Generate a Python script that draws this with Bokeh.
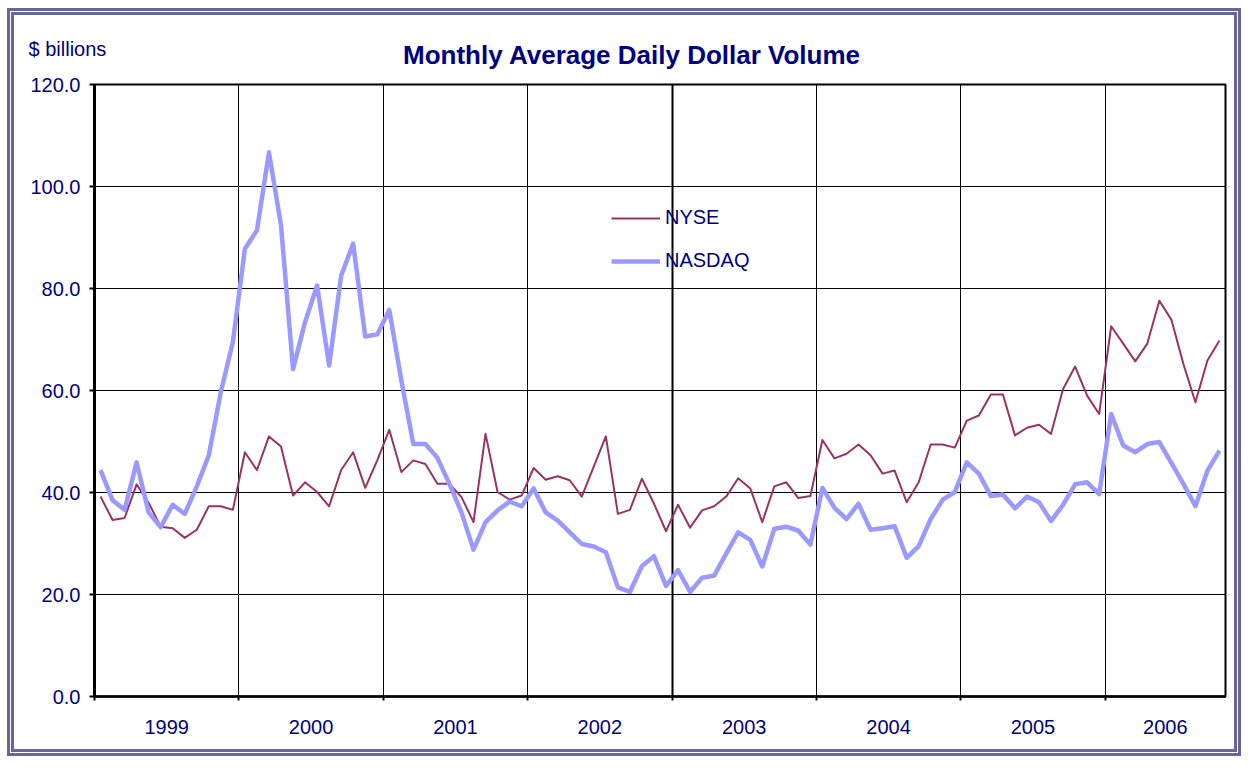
from bokeh.plotting import figure
from bokeh.models import (Range1d, FixedTicker, NumeralTickFormatter, Legend,
                          LegendItem, Label, Grid)
from bokeh.embed import file_html
from bokeh.resources import INLINE

years = ["1999", "2000", "2001", "2002", "2003", "2004", "2005", "2006"]
months_per_year = [12, 12, 12, 12, 12, 12, 12, 10]

nyse = [
    39.2, 34.6, 35.0, 41.6, 38.0, 33.3, 33.0, 31.1, 32.7, 37.3, 37.3, 36.6,
    47.9, 44.4, 51.0, 49.0, 39.4, 42.0, 40.1, 37.3, 44.4, 47.9, 40.9, 46.3,
    52.3, 44.0, 46.3, 45.6, 41.7, 41.7, 39.1, 34.2, 51.5, 40.1, 38.6, 39.4,
    44.8, 42.5, 43.2, 42.4, 39.2, 45.1, 51.0, 35.8, 36.6, 42.7, 37.8, 32.4,
    37.6, 33.1, 36.5, 37.3, 39.2, 42.8, 40.8, 34.2, 41.2, 42.0, 38.9, 39.3,
    50.3, 46.7, 47.6, 49.4, 47.3, 43.7, 44.3, 38.1, 42.0, 49.4, 49.4, 48.8,
    54.1, 55.1, 59.2, 59.2, 51.2, 52.7, 53.3, 51.5, 60.3, 64.7, 59.0, 55.4,
    72.6, 69.2, 65.7, 69.2, 77.6, 73.9, 65.2, 57.7, 65.9, 69.8,
]

nasdaq = [
    44.4, 38.5, 36.6, 45.9, 36.1, 33.2, 37.6, 35.8, 41.2, 47.3, 59.7, 69.5,
    87.8, 91.4, 106.7, 92.4, 64.2, 73.4, 80.6, 64.9, 82.5, 88.8, 70.6, 71.0,
    75.8, 62.0, 49.5, 49.5, 46.8, 41.7, 36.1, 28.8, 34.2, 36.5, 38.2, 37.3,
    40.8, 36.1, 34.5, 32.2, 29.9, 29.4, 28.3, 21.4, 20.5, 25.6, 27.5, 21.7,
    24.8, 20.5, 23.3, 23.7, 28.0, 32.2, 30.7, 25.5, 32.9, 33.3, 32.5, 29.8,
    40.9, 37.0, 34.8, 37.8, 32.7, 33.0, 33.4, 27.2, 29.5, 34.8, 38.6, 40.1,
    45.9, 43.7, 39.3, 39.6, 36.9, 39.2, 38.1, 34.4, 37.6, 41.6, 42.0, 39.7,
    55.4, 49.2, 47.9, 49.5, 49.9, 45.8, 41.7, 37.3, 44.3, 48.2,
]

y_ticks = [0, 20, 40, 60, 80, 100, 120]

NAVY = "#000080"
FONT = "Liberation Sans"
FRAME = "#666699"

n = len(nyse)
xs = [i + 0.5 for i in range(n)]
starts = []
acc = 0
for m in months_per_year:
    starts.append(acc)
    acc += m
centers = [s + m / 2 for s, m in zip(starts, months_per_year)]

W, H = 1241, 756


def band(x, y, w, h):
    return (f"linear-gradient({FRAME},{FRAME}) {x}px {y}px / {w}px {h}px "
            f"no-repeat")


bands = [
    band(7, 8, W - 7, 3), band(7, H - 3, W - 7, 3),
    band(7, 8, 3, H - 8), band(W - 3, 8, 3, H - 8),
    band(11, 12, W - 15, 3), band(11, H - 7, W - 15, 3),
    band(11, 12, 3, H - 19), band(W - 7, 12, 3, H - 19),
]

p = figure(width=W, height=H, output_backend="svg", toolbar_location=None,
           x_range=Range1d(0, n), y_range=Range1d(0, 120),
           min_border_left=94, min_border_right=16,
           min_border_top=84, min_border_bottom=60)
p.styles = {"background": ", ".join(bands) + ", #ffffff"}
p.background_fill_color = "white"
p.border_fill_color = None
p.outline_line_color = "black"
p.outline_line_width = 2

# lines
r_nyse = p.line(xs, nyse, line_color="#993366", line_width=2, line_join="round")
r_nasdaq = p.line(xs, nasdaq, line_color="#9999FF", line_width=4.5,
                  line_join="round")

# x axis
xa = p.xaxis[0]
xa.ticker = FixedTicker(ticks=centers, minor_ticks=starts)
xa.major_label_overrides = {c: y for c, y in zip(centers, years)}
xa.major_tick_line_color = None
xa.major_tick_out = 0
xa.major_tick_in = 0
xa.minor_tick_line_color = "black"
xa.minor_tick_line_width = 2
xa.minor_tick_out = 4
xa.minor_tick_in = 0
xa.axis_line_color = "black"
xa.axis_line_width = 2.5
xa.major_label_text_font = FONT
xa.major_label_text_font_size = "20px"
xa.major_label_text_color = NAVY
xa.major_label_standoff = 19

# y axis
ya = p.yaxis[0]
ya.ticker = FixedTicker(ticks=y_ticks, minor_ticks=[])
ya.formatter = NumeralTickFormatter(format="0.0")
ya.major_tick_line_color = "black"
ya.major_tick_line_width = 2
ya.major_tick_out = 5
ya.major_tick_in = 0
ya.minor_tick_line_color = None
ya.axis_line_color = "black"
ya.axis_line_width = 3
ya.major_label_text_font = FONT
ya.major_label_text_font_size = "20px"
ya.major_label_text_color = NAVY
ya.major_label_standoff = 9

# grids
p.xgrid.ticker = FixedTicker(ticks=starts[1:])
p.xgrid.grid_line_color = "black"
p.xgrid.grid_line_width = 1
p.ygrid.grid_line_color = "black"
p.ygrid.grid_line_width = 1
p.add_layout(Grid(dimension=0, ticker=FixedTicker(ticks=[starts[4]]),
                  grid_line_color="black", grid_line_width=2))

# legend
legend = Legend(items=[LegendItem(label="NYSE", renderers=[r_nyse]),
                       LegendItem(label="NASDAQ", renderers=[r_nasdaq])],
                location=(517, 424), orientation="vertical",
                glyph_width=49, glyph_height=20, label_height=20,
                label_standoff=5, spacing=20, padding=0, margin=0,
                border_line_alpha=0, background_fill_alpha=0,
                label_text_font=FONT, label_text_font_size="20px",
                label_text_color=NAVY)
p.add_layout(legend)

# title and unit label (in the panel above the frame)
p.add_layout(Label(x=537.5, y=29.7, x_units="screen", y_units="screen",
                   text="Monthly Average Daily Dollar Volume",
                   text_align="center", text_baseline="alphabetic",
                   text_font=FONT, text_font_style="bold",
                   text_font_size="26px", text_color=NAVY), "above")
p.add_layout(Label(x=-66, y=5.7, x_units="screen", y_units="screen",
                   text="$ billions", text_align="left",
                   text_baseline="alphabetic", text_font=FONT,
                   text_font_size="20px", text_color=NAVY), "above")

open("out.html", "w").write(file_html(p, INLINE))
